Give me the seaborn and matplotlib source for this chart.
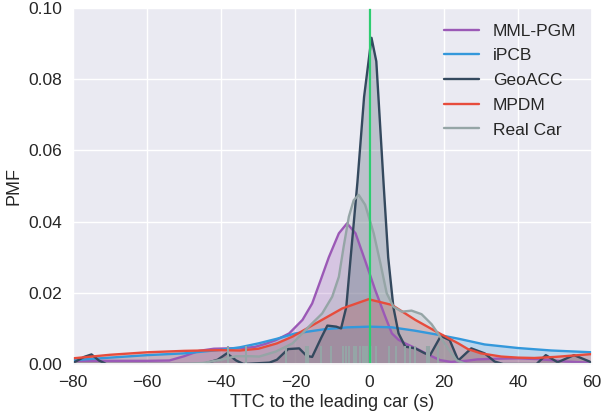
import numpy as np
import pandas as pd
import matplotlib
matplotlib.use("Agg")
import matplotlib.pyplot as plt
import seaborn as sns

# ---- data ----
mml_x = [-80, -70, -60, -54, -50, -46, -42, -38, -34, -31, -28, -25.3, -21.7, -18.1, -15.5, -13.2,
         -11, -8.3, -6.1, -3.8, -1.2, 1.5, 4.2, 6, 7.8, 9.6, 13.1, 16.7, 19, 22, 26, 29, 34, 40,
         45, 49, 53, 57, 60]
mml_y = [0.0009, 0.0009, 0.0009, 0.0010, 0.0022, 0.0037, 0.0043, 0.0044, 0.0045, 0.0048, 0.0057,
         0.0067, 0.0086, 0.0124, 0.0170, 0.0236, 0.0300, 0.0367, 0.0395, 0.0367, 0.0290, 0.0208,
         0.0133, 0.0086, 0.0068, 0.0058, 0.0041, 0.0022, 0.0011, 0.0006, 0.0009, 0.0013, 0.0015,
         0.0016, 0.0014, 0.0011, 0.0007, 0.0005, 0.0004]

ipcb_x = [-80, -70, -60, -50, -40, -35, -30, -25, -20, -12, -6, 0, 6, 12, 18, 24, 31, 40, 49, 60]
ipcb_y = [0.0011, 0.0018, 0.0025, 0.0030, 0.0040, 0.0047, 0.0058, 0.0071, 0.0086, 0.0098, 0.0103,
          0.0105, 0.0103, 0.0094, 0.0083, 0.0071, 0.0055, 0.0045, 0.0038, 0.0033]

geo_x = [-80, -77, -75, -73, -71, -45, -41, -38.5, -36, -34, -27, -25, -22, -19, -17, -15.5, -13,
         -11.4, -9, -7.7, -6.3, -5.2, -3.3, -1.5, 0.5, 1.8, 3.8, 5, 6.4, 7.8, 9.6, 12.3, 14.9, 16.3,
         19.2, 21.6, 23.9, 27.4, 31, 33.7, 36, 45, 47.5, 50.7, 55.1, 57, 59.3, 60]
geo_y = [0.0003, 0.0020, 0.0027, 0.0010, 0.0, 0.0, 0.0012, 0.0030, 0.0010, 0.0, 0.0004, 0.0012,
         0.0042, 0.0044, 0.0023, 0.0020, 0.0075, 0.0108, 0.0105, 0.0100, 0.0160, 0.0290, 0.0510,
         0.0750, 0.0916, 0.0850, 0.0500, 0.0300, 0.0160, 0.0086, 0.0049, 0.0044, 0.0030, 0.0025,
         0.0079, 0.0067, 0.0010, 0.0044, 0.0030, 0.0007, 0.0, 0.0, 0.0025, 0.0005, 0.0025, 0.0017,
         0.0007, 0.0]

mpdm_x = [-80, -70, -60, -50, -40, -35, -30, -25, -20.8, -13.7, -7.4, -0.3, 6, 12.3, 18.5, 20.3,
          23.9, 26.5, 30, 35.5, 40, 44.4, 50, 55, 60]
mpdm_y = [0.0016, 0.0026, 0.0033, 0.0037, 0.0039, 0.0038, 0.0043, 0.0058, 0.0077, 0.0119, 0.0156,
          0.0182, 0.0166, 0.0124, 0.0088, 0.0078, 0.0058, 0.0042, 0.0030, 0.0021, 0.0018, 0.0017,
          0.0020, 0.0024, 0.0028]

real_x = [-80, -50, -45, -40, -36, -32, -29.8, -25.3, -20.8, -16.4, -12.8, -10.1, -8.3, -7, -5.6,
          -4.3, -2.95, -1.2, 1.1, 2.9, 4.6, 6.4, 8.7, 11.3, 14, 16.7, 19.4, 21.6, 23.5, 26, 60]
real_y = [0.0, 0.0, 0.0003, 0.0012, 0.0022, 0.0022, 0.0021, 0.0035, 0.0058, 0.0105, 0.0142, 0.0189,
          0.0245, 0.0330, 0.0414, 0.0460, 0.0475, 0.0447, 0.0367, 0.0283, 0.0199, 0.0161, 0.0147,
          0.0150, 0.0140, 0.0112, 0.0071, 0.0037, 0.0010, 0.0, 0.0]

real_rug = [-38.3, -33.3, -22.6, -17.2, -16.7, -13.0, -10.3, -7.3, -6.3, -5.6, -4.3, -3.8, -2.5,
            -1.9, -1.2, -0.7, 0.3, 1.8, 5.3, 7.0, 9.6, 11.0, 12.3, 15.5, 15.9, 18.5]

series_names = ["MML-PGM", "iPCB", "GeoACC", "MPDM", "Real Car"]
series_x = [mml_x, ipcb_x, geo_x, mpdm_x, real_x]
series_y = [mml_y, ipcb_y, geo_y, mpdm_y, real_y]
colors = ["#9b59b6", "#3498db", "#34495e", "#e74c3c", "#95a5a6"]

x_ticks = [-80, -60, -40, -20, 0, 20, 40, 60]
y_ticks = [0.00, 0.02, 0.04, 0.06, 0.08, 0.10]

# ---- plot ----
sns.set_theme(style="darkgrid")
plt.rcParams["font.family"] = ["Liberation Sans", "DejaVu Sans"]

fig, ax = plt.subplots(figsize=(6.03, 4.17), dpi=100)
fig.subplots_adjust(left=0.121, right=0.982, top=0.981, bottom=0.127)

for name, xs, ys, c in zip(series_names, series_x, series_y, colors):
    df = pd.DataFrame({"x": xs, "y": ys})
    sns.lineplot(data=df, x="x", y="y", ax=ax, color=c, linewidth=1.7, label=name)
    ax.fill_between(df["x"], 0, df["y"], color=c, alpha=0.25, linewidth=0)

sns.rugplot(x=real_rug, ax=ax, height=0.05, color="#95a5a6", linewidth=1.5)
ax.axvline(0, color="#2ecc71", linewidth=1.6)

ax.set_xlim(-80, 60)
ax.set_ylim(0, 0.10)
ax.set_xticks(x_ticks)
ax.set_yticks(y_ticks)
ax.set_yticklabels([f"{v:.2f}" for v in y_ticks])
ax.tick_params(labelsize=12.5, pad=2)
ax.set_xlabel("TTC to the leading car (s)", fontsize=13, labelpad=3)
ax.set_ylabel("PMF", fontsize=13)
ax.legend(loc="upper right", fontsize=12.5, frameon=False, labelspacing=0.55)

fig.savefig("out.png", dpi=100)
